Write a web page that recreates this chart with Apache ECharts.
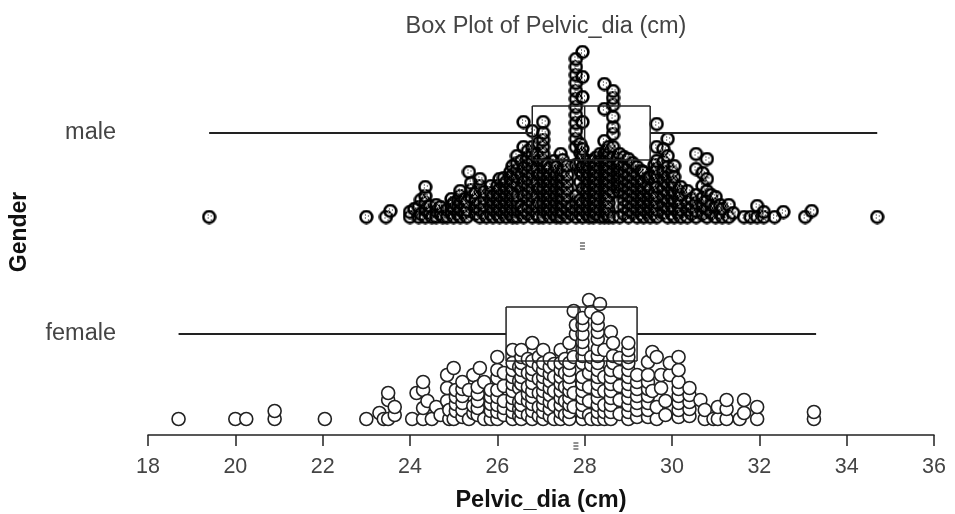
<!DOCTYPE html>
<html>
<head>
<meta charset="utf-8">
<script src="https://cdn.jsdelivr.net/npm/echarts@6/dist/echarts.min.js"></script>
<style>
html, body { margin: 0; background: #fff; }
#main { width: 955px; height: 514px; }
</style>
</head>
<body>
<div id="main"></div>
<script>
var chartTitle = "Box Plot of Pelvic_dia (cm)";
var xName = "Pelvic_dia (cm)";
var yName = "Gender";
var xTicks = [18, 20, 22, 24, 26, 28, 30, 32, 34, 36];
var groups = ["female", "male"];
// height of each group's centre line and dot baseline on the y scale
var groupCentre = [101, 302];
var groupBase = [16, 218];
// whisker low, q1, median, q3, whisker high
var femaleBox = [18.7, 26.2, 27.85, 29.2, 33.3];
var maleBox = [19.4, 26.8, 28.0, 29.5, 34.7];
var boxHalfHeight = 27;
var femaleMean = 27.8;
var maleMean = 27.95;

// [value, heights of the dots stacked at that value]
var femaleDots = [
  [18.7, [0]], [20, [0]], [20.25, [0]], [20.9, [0, 8]], [22.05, [0]], [23, [0]],
  [23.3, [6]], [23.4, [0]], [23.5, [0, 19, 26]], [23.65, [4, 12]],
  [24.05, [0]], [24.15, [26]], [24.3, [0, 11, 29, 37]], [24.4, [18]], [24.5, [0]],
  [24.6, [12]], [24.7, [4]], [24.85, [18, 31, 44]], [24.9, [0, 9]], [25, [0, 51]],
  [25.05, [8, 15, 22, 29]], [25.2, [2, 9, 16, 23, 30, 37]], [25.35, [0, 29]],
  [25.45, [6, 13, 44]], [25.55, [4, 11, 18, 25, 32]], [25.6, [51]], [25.7, [0, 37]],
  [25.85, [0, 8, 15, 22, 29]], [26, [0, 7, 14, 22, 29, 41, 49, 62]],
  [26.15, [4, 11, 18, 33, 46]], [26.35, [0, 7, 14, 21, 28, 35, 42, 49, 56, 69]],
  [26.5, [3, 10, 17, 31, 38, 52]], [26.55, [0, 7, 14, 21, 35, 42, 49, 56, 62, 69]],
  [26.7, [4, 18, 25, 32, 46, 60]], [26.8, [0, 8, 15, 22, 28, 36, 44, 50, 58, 76]],
  [26.95, [3, 12, 26, 40, 53, 62]], [27.05, [0, 7, 14, 21, 28, 35, 42, 49, 56, 69]],
  [27.2, [3, 10, 17, 24, 31, 38, 45, 52, 60]], [27.3, [0, 14, 28, 42, 55]],
  [27.45, [0, 7, 14, 21, 28, 35, 42, 49, 56, 69]], [27.55, [4, 18, 32, 46, 60]],
  [27.65, [0, 7, 14, 21, 28, 35, 42, 49, 56, 76]], [27.75, [12, 26, 62, 108]],
  [27.8, [85, 94]],
  [27.95, [0, 7, 14, 21, 28, 35, 42, 56, 63, 70, 77, 85, 94, 101]],
  [28.1, [4, 18, 32, 46, 119]], [28.15, [0, 54, 62, 107]],
  [28.3, [0, 7, 14, 21, 28, 35, 42, 49, 56, 63, 70, 80, 87, 94, 101]], [28.35, [115]],
  [28.45, [0, 7, 14, 28, 42, 69]], [28.6, [0, 7, 14, 21, 28, 35, 42, 49, 87]],
  [28.65, [56, 63, 76]], [28.8, [5, 19, 33, 47, 61]],
  [29, [0, 7, 14, 21, 28, 35, 42, 49, 56, 62, 69, 76]],
  [29.2, [2, 9, 16, 23, 30, 37, 44]], [29.45, [2, 9, 16, 23, 30, 37, 44, 57]],
  [29.55, [28, 67]], [29.65, [0, 12, 62]], [29.75, [31, 44]], [29.85, [4, 18]],
  [29.95, [44, 56]], [30.15, [2, 9, 16, 23, 30, 37, 49, 62]], [30.4, [3, 10, 17, 24, 31]],
  [30.65, [19]], [30.75, [0, 9]], [30.95, [0]], [31.05, [0, 12]], [31.25, [0, 10, 19]],
  [31.55, [0]], [31.65, [6, 19]], [31.95, [0, 12]], [33.25, [0, 7]]
];
var maleDots = [
  [19.4, [0]], [23, [0]], [23.45, [0]], [23.55, [6]], [24, [0, 5]], [24.1, [8]],
  [24.2, [0, 10]], [24.25, [3, 17]], [24.35, [0, 7, 14, 21, 30]], [24.45, [4, 11]],
  [24.5, [0]], [24.6, [0, 6, 12]], [24.7, [3, 10]],
  [24.75, [0]], [24.85, [0, 7]], [24.95, [4, 11, 18]], [25, [0, 8, 14]], [25.1, [3, 10, 17]],
  [25.15, [0, 7, 14, 21, 26]], [25.25, [4, 11, 18]],
  [25.3, [0, 7, 15]], [25.35, [45]], [25.4, [20, 27, 34]], [25.5, [3, 10, 17, 24]],
  [25.6, [0, 7, 14, 31, 38]], [25.7, [4, 11, 18, 25]],
  [25.75, [0]], [25.85, [3, 10, 17, 24, 31]], [25.9, [0, 7, 14, 21]],
  [26, [3, 10, 17, 24, 31]], [26.05, [0, 7, 14, 21, 28, 38]],
  [26.15, [4, 11, 18, 25, 32, 39]], [26.2, [0, 7, 14, 21, 28, 35]],
  [26.3, [3, 10, 17, 24, 31, 38, 45]], [26.35, [0, 7, 14, 21, 28, 35, 42, 51]],
  [26.45, [0, 7, 14, 21, 33, 40, 47, 54, 61]], [26.55, [4, 11, 28, 42, 56]],
  [26.6, [0, 7, 21, 35, 49, 70, 95]], [26.7, [3, 10, 17, 24, 31, 38, 45, 52, 59, 66]],
  [26.8, [0, 7, 14, 21, 28, 35, 42, 49, 56, 63, 70, 86]], [26.9, [3, 10, 21, 35, 49, 63]],
  [26.95, [0, 14, 28, 42, 56, 74]],
  [27.05, [0, 7, 14, 21, 28, 35, 42, 49, 56, 63, 70, 77, 84, 95]],
  [27.15, [4, 11, 18, 25, 32, 39, 46, 53]],
  [27.2, [0, 7, 14, 21, 28, 35, 42, 49]], [27.3, [3, 10, 17, 24, 31, 38, 45, 56]],
  [27.35, [0, 7, 14, 21, 28, 35, 42, 50]], [27.45, [0, 7, 14, 21, 28, 35, 42, 63]],
  [27.5, [4, 11, 18, 25, 32, 39, 46, 57]], [27.6, [0, 7, 14, 21, 28, 35, 42, 51]],
  [27.7, [3, 10]],
  [27.8, [0, 7, 14, 21, 52, 70, 78, 86, 94, 102, 110, 118, 126, 134, 142, 150, 158]],
  [27.9, [3, 10, 17, 35, 46, 55, 64, 73]],
  [27.95, [0, 7, 14, 28, 42, 50, 60, 68, 95, 120, 140, 165]],
  [28.05, [3, 10, 17, 24, 31, 38, 45, 52]],
  [28.1, [0, 7, 14, 21, 28, 35, 42, 49, 56]], [28.2, [0, 7, 14, 21, 28, 35, 42, 49, 56]],
  [28.25, [3, 10, 17, 24, 31, 38, 45, 52, 59]],
  [28.35, [0, 7, 14, 21, 28, 35, 42, 49, 56, 63]],
  [28.45, [0, 7, 14, 21, 28, 35, 42, 49, 56, 63, 76, 108, 133]],
  [28.5, [3, 10, 17, 24, 31, 38, 45, 52, 59, 66]],
  [28.55, [0, 7, 14, 21, 28, 35, 42, 49, 56, 63, 70]],
  [28.65, [0, 25, 32, 39, 46, 53, 60, 70, 83, 90, 100, 112, 119, 126]],
  [28.75, [30, 37, 44, 51, 58]],
  [28.8, [0, 25, 32, 39, 46, 53, 63]], [28.9, [3, 10, 17, 24, 31, 38, 45, 52, 60]],
  [29, [0, 7, 14, 21, 28, 35, 42, 50, 58]], [29.1, [4, 11, 18, 25, 32, 39, 46, 54]],
  [29.2, [0, 7, 14, 21, 28, 35, 42, 50]], [29.3, [3, 10, 17, 24, 31, 38, 46]],
  [29.35, [0, 7, 14, 21, 28, 35, 45]], [29.45, [4, 11, 18, 25, 32, 39]],
  [29.5, [0, 7, 14, 21, 28, 40]], [29.6, [3, 10, 17, 24, 35, 44, 52]],
  [29.65, [0, 7, 14, 21, 30, 40, 48, 56, 70, 93]], [29.8, [4, 12, 20, 28, 36, 45, 55, 68]],
  [29.9, [0, 8, 16, 24, 32, 40, 50, 61, 78]], [30, [3, 11, 19, 27, 35, 45]],
  [30.05, [0, 8, 16, 24, 32, 40, 51]], [30.15, [4, 11, 18, 26]],
  [30.2, [0, 7, 14, 22, 30]], [30.35, [0, 7, 14, 26]], [30.45, [3, 10, 18]],
  [30.55, [0, 6, 14, 22, 48, 63]], [30.7, [3, 11, 19, 31, 44]],
  [30.8, [0, 8, 16, 26, 38, 58]], [30.9, [4, 12, 22]], [31, [0, 10, 20]], [31.1, [4, 12]],
  [31.15, [0, 8]], [31.3, [0, 12]], [31.4, [4]],
  [31.65, [0]], [31.8, [0]], [31.95, [0, 11]], [32.1, [0, 5]], [32.35, [0]], [32.55, [5]],
  [33.05, [0]], [33.2, [6]], [34.7, [0]]
];

function toPoints(columns, base) {
  var pts = [];
  columns.forEach(function(c) {
    c[1].forEach(function(h) {
      pts.push([c[0], base + h]);
    });
  });
  return pts;
}

// the male dots are a thick ring, speckled black and white inside
function maleSymbol() {
  var c = document.createElement("canvas");
  c.width = 15;
  c.height = 15;
  var ctx = c.getContext("2d");
  ctx.strokeStyle = "#000";
  ctx.lineWidth = 2.6;
  ctx.beginPath();
  ctx.arc(7.5, 7.5, 5.9, 0, Math.PI * 2);
  ctx.stroke();
  ctx.fillStyle = "#fff";
  [[5, 4], [8, 4], [9, 4], [4, 6], [7, 6], [10, 6], [5, 8], [8, 8], [9, 9], [6, 10], [7, 10]].forEach(function(p) {
    ctx.fillRect(p[0], p[1], 1, 1);
  });
  ctx.fillStyle = "#000";
  [[6, 5], [9, 6], [6, 8], [9, 10]].forEach(function(p) {
    ctx.fillRect(p[0], p[1], 1, 1);
  });
  return "image://" + c.toDataURL();
}

var boxRows = [
  { stats: femaleBox, centre: groupCentre[0], mean: femaleMean, meanY: -8 },
  { stats: maleBox, centre: groupCentre[1], mean: maleMean, meanY: 192 }
];

function renderBox(params, api) {
  var row = boxRows[params.dataIndex];
  var s = row.stats;
  function seg(x1, y1, x2, y2, w) {
    var a = api.coord([x1, y1]);
    var b = api.coord([x2, y2]);
    return {
      type: "line",
      shape: { x1: a[0], y1: a[1], x2: b[0], y2: b[1] },
      style: { stroke: "#222", lineWidth: w, fill: null }
    };
  }
  var top = row.centre + boxHalfHeight;
  var bot = row.centre - boxHalfHeight;
  var kids = [
    seg(s[0], row.centre, s[1], row.centre, 2),
    seg(s[3], row.centre, s[4], row.centre, 2),
    seg(s[1], top, s[3], top, 1.5),
    seg(s[1], bot, s[3], bot, 1.5),
    seg(s[1], top, s[1], bot, 1.5),
    seg(s[3], top, s[3], bot, 1.5),
    seg(s[2], top, s[2], bot, 1.5)
  ];
  // small dotted mark under the box for the mean
  [0, 3, 6].forEach(function(d) {
    var a = api.coord([row.mean, row.meanY - d]);
    kids.push({
      type: "line",
      shape: { x1: a[0] - 2.5, y1: a[1], x2: a[0] + 2.5, y2: a[1] },
      style: { stroke: "#222", lineWidth: 1 }
    });
  });
  return { type: "group", children: kids };
}

var myChart = echarts.init(document.getElementById("main"), null, { renderer: "canvas" });
var labelFont = "'Liberation Sans', Arial, sans-serif";

myChart.setOption({
  animation: false,
  backgroundColor: "#fff",
  title: {
    text: chartTitle,
    left: 541,
    top: 10,
    textAlign: "center",
    textStyle: { fontFamily: labelFont, fontSize: 23.5, fontWeight: "normal", color: "#444" }
  },
  grid: { left: 148, right: 21, top: 29, bottom: 79, outerBoundsMode: "none" },
  xAxis: {
    type: "value",
    min: 18,
    max: 36,
    interval: 2,
    name: xName,
    nameLocation: "center",
    nameGap: 54,
    nameTextStyle: { fontFamily: labelFont, fontSize: 23.5, fontWeight: "bold", color: "#111" },
    splitLine: { show: false },
    axisLine: { show: true, onZero: false, lineStyle: { color: "#222", width: 1.5 } },
    axisTick: { show: true, length: 11, lineStyle: { color: "#222", width: 1.5 } },
    axisLabel: {
      margin: 21,
      fontFamily: labelFont,
      fontSize: 21.5,
      color: "#444",
      customValues: xTicks
    }
  },
  yAxis: {
    type: "value",
    min: 0,
    max: 406,
    name: yName,
    nameLocation: "center",
    nameRotate: 90,
    nameGap: 117,
    nameTextStyle: { fontFamily: labelFont, fontSize: 23, fontWeight: "bold", color: "#111" },
    splitLine: { show: false },
    axisLine: { show: false },
    axisTick: { show: false },
    axisLabel: {
      margin: 32,
      fontFamily: labelFont,
      fontSize: 23.5,
      color: "#444",
      customValues: groupCentre,
      formatter: function(v) {
        return groups[groupCentre.indexOf(v)];
      }
    }
  },
  series: [
    {
      name: "female",
      type: "scatter",
      symbol: "circle",
      symbolSize: 13,
      z: 2,
      itemStyle: { color: "#fff", borderColor: "#222", borderWidth: 1.6, opacity: 1 },
      data: toPoints(femaleDots, groupBase[0])
    },
    {
      name: "male",
      type: "scatter",
      symbol: maleSymbol(),
      symbolSize: 15,
      z: 2,
      itemStyle: { opacity: 1 },
      data: toPoints(maleDots, groupBase[1])
    },
    {
      type: "custom",
      z: 3,
      clip: false,
      renderItem: renderBox,
      data: [0, 1]
    }
  ]
});
</script>
</body>
</html>
